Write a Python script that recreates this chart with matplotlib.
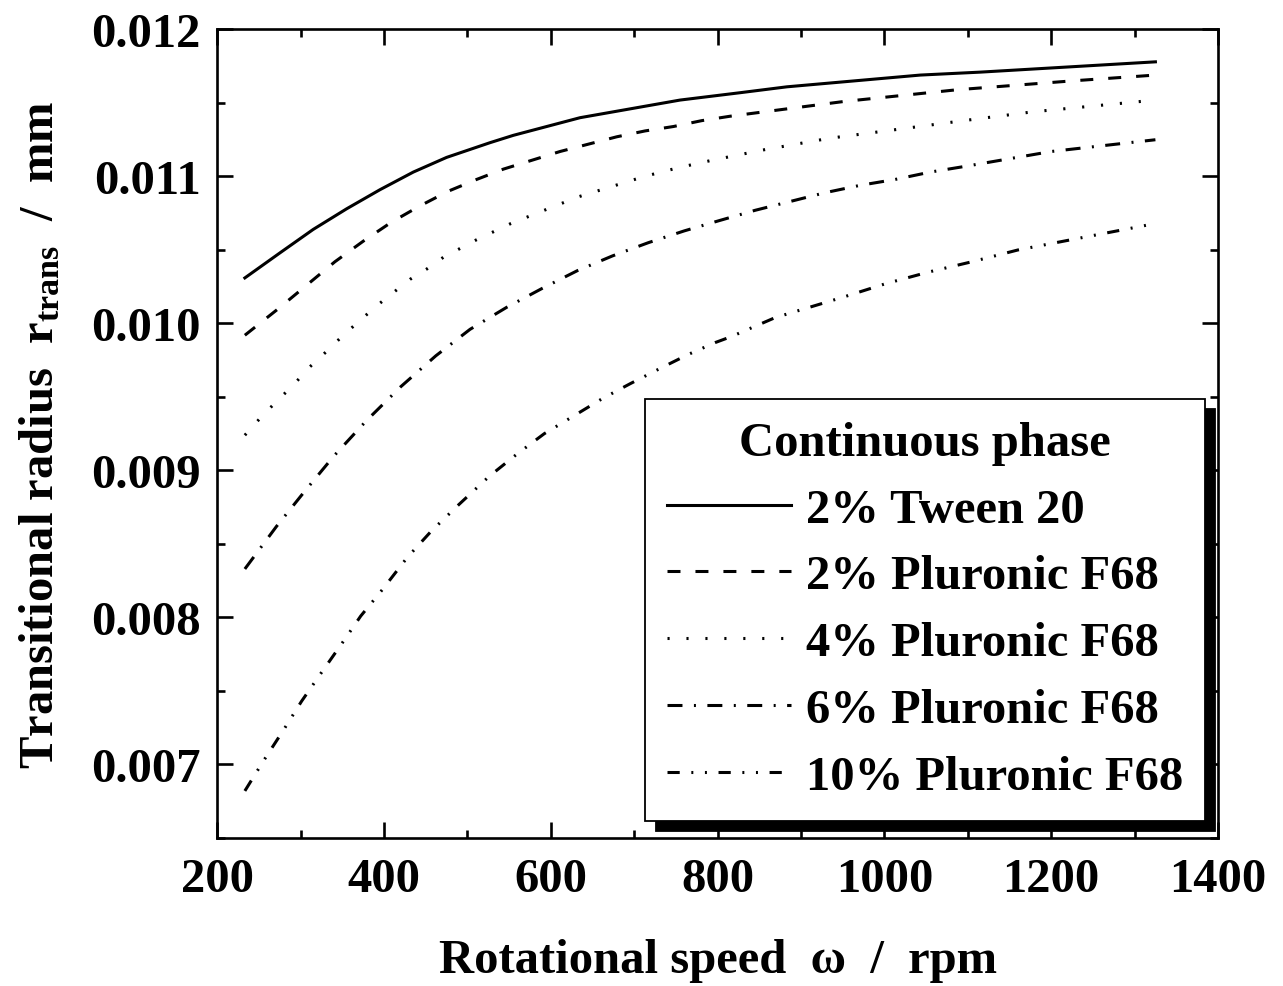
import numpy as np
import matplotlib
matplotlib.use("Agg")
import matplotlib.pyplot as plt
from matplotlib.ticker import MultipleLocator, FormatStrFormatter

plt.rcParams['font.family'] = ['Liberation Serif', 'DejaVu Serif']
plt.rcParams['font.weight'] = 'bold'
plt.rcParams['mathtext.fontset'] = 'custom'
plt.rcParams['mathtext.rm'] = 'Liberation Serif:bold'
plt.rcParams['mathtext.it'] = 'Liberation Serif:bold'
plt.rcParams['mathtext.bf'] = 'Liberation Serif:bold'

# rotational speed (rpm) and transitional radius (mm) for each continuous phase
w_tw20 = [233, 275, 315, 355, 395, 435, 475, 527, 555, 595, 635, 675, 715, 755,
          827, 883, 963, 1043, 1115, 1325]
r_tw20 = [0.01031, 0.01048, 0.01064, 0.01078, 0.01091, 0.01103, 0.01113, 0.01123,
          0.01128, 0.01134, 0.01140, 0.01144, 0.01148, 0.01152, 0.01157, 0.01161,
          0.01165, 0.01169, 0.01171, 0.01178]

w_f68_2 = [233, 273, 307, 341, 375, 409, 443, 477, 511, 543, 577, 611, 645, 679,
           713, 747, 781, 815, 883, 951, 1019, 1087, 1224, 1325]
r_f68_2 = [0.00992, 0.01010, 0.01026, 0.01042, 0.01056, 0.01069, 0.01080, 0.01090,
           0.01098, 0.01105, 0.01111, 0.01117, 0.01122, 0.01127, 0.01131, 0.01134,
           0.01138, 0.01141, 0.01146, 0.01151, 0.01155, 0.01159, 0.01165, 0.01169]

w_f68_4 = [233, 252, 271, 291, 310, 331, 351, 371, 391, 411, 431, 451, 471, 491,
           511, 552, 592, 632, 672, 712, 753, 793, 854, 934, 1015, 1095, 1178, 1325]
r_f68_4 = [0.00924, 0.00936, 0.00947, 0.00958, 0.00970, 0.00981, 0.00992, 0.01002,
           0.01012, 0.01021, 0.01030, 0.01037, 0.01045, 0.01051, 0.01057, 0.01068,
           0.01077, 0.01086, 0.01093, 0.01100, 0.01106, 0.01111, 0.01118, 0.01126,
           0.01132, 0.01138, 0.01144, 0.01152]

w_f68_6 = [233, 271, 305, 340, 379, 420, 462, 503, 547, 590, 632, 674, 717, 760,
           802, 845, 887, 929, 971, 1013, 1055, 1098, 1200, 1325]
r_f68_6 = [0.00833, 0.00862, 0.00886, 0.00910, 0.00934, 0.00957, 0.00978, 0.00996,
           0.01011, 0.01024, 0.01036, 0.01046, 0.01055, 0.01063, 0.01070, 0.01077,
           0.01083, 0.01089, 0.01094, 0.01098, 0.01103, 0.01107, 0.01117, 0.01125]

w_f68_10 = [233, 256, 280, 301, 323, 349, 372, 398, 428, 457, 490, 526, 559, 592,
            630, 662, 695, 733, 765, 797, 816, 869, 951, 1001, 1053, 1105, 1160, 1325]
r_f68_10 = [0.00682, 0.00703, 0.00724, 0.00743, 0.00761, 0.00782, 0.00801, 0.00819,
            0.00841, 0.00859, 0.00877, 0.00896, 0.00911, 0.00925, 0.00938, 0.00949,
            0.00959, 0.00970, 0.00979, 0.00987, 0.00991, 0.01004, 0.01018, 0.01027,
            0.01035, 0.01042, 0.01050, 0.01068]

labels = ["2% Tween 20", "2% Pluronic F68", "4% Pluronic F68",
          "6% Pluronic F68", "10% Pluronic F68"]

fs = 35
lw = 2.2
styles = ['-', (0, (4.25, 4.9)), (0, (0.7, 5.5)), (0, (4.9, 3.75, 0.65, 3.75)),
          (0, (4, 3.8, 0.65, 3.8, 0.65, 3.8))]

fig = plt.figure(figsize=(12.83, 9.87), dpi=100)
ax = fig.add_axes([0.1694, 0.1500, 0.7799, 0.8191])

series = [(w_tw20, r_tw20), (w_f68_2, r_f68_2), (w_f68_4, r_f68_4),
          (w_f68_6, r_f68_6), (w_f68_10, r_f68_10)]
for (x, y), lab, ls in zip(series, labels, styles):
    ax.plot(x, y, color='black', lw=lw, linestyle=ls, label=lab, dash_capstyle='butt')

ax.set_xlim(200, 1400)
ax.set_ylim(0.0065, 0.012)
ax.xaxis.set_major_locator(MultipleLocator(200))
ax.xaxis.set_minor_locator(MultipleLocator(100))
ax.yaxis.set_major_locator(MultipleLocator(0.001))
ax.yaxis.set_minor_locator(MultipleLocator(0.0005))
ax.yaxis.set_major_formatter(FormatStrFormatter('%.3f'))

for s in ax.spines.values():
    s.set_linewidth(1.9)
ax.tick_params(which='both', direction='in', top=True, right=True, width=1.9)
ax.tick_params(which='major', length=11.5, labelsize=fs)
ax.tick_params(which='minor', length=6)
ax.tick_params(axis='x', which='major', pad=14)
ax.tick_params(axis='y', which='major', pad=12)

ax.set_xlabel("Rotational speed  \u03c9  /  rpm", fontsize=fs, fontweight='bold', labelpad=26)
ax.set_ylabel("Transitional radius  r$_{\\mathrm{trans}}$  /  mm", fontsize=fs,
              fontweight='bold', labelpad=20)

leg = ax.legend(title="Continuous phase", loc='lower right', bbox_to_anchor=(0.987, 0.021),
                borderaxespad=0, fontsize=fs, title_fontsize=fs, handlelength=2.55,
                handletextpad=0.3, labelspacing=0.47, borderpad=0.45, fancybox=False,
                framealpha=1, edgecolor='black',
                shadow={'ox': 7.5, 'oy': -7.5, 'facecolor': 'black', 'edgecolor': 'black', 'alpha': 1})
leg.get_frame().set_linewidth(1.3)
leg.get_title().set_fontweight('bold')

fig.savefig("out.png", dpi=100)
